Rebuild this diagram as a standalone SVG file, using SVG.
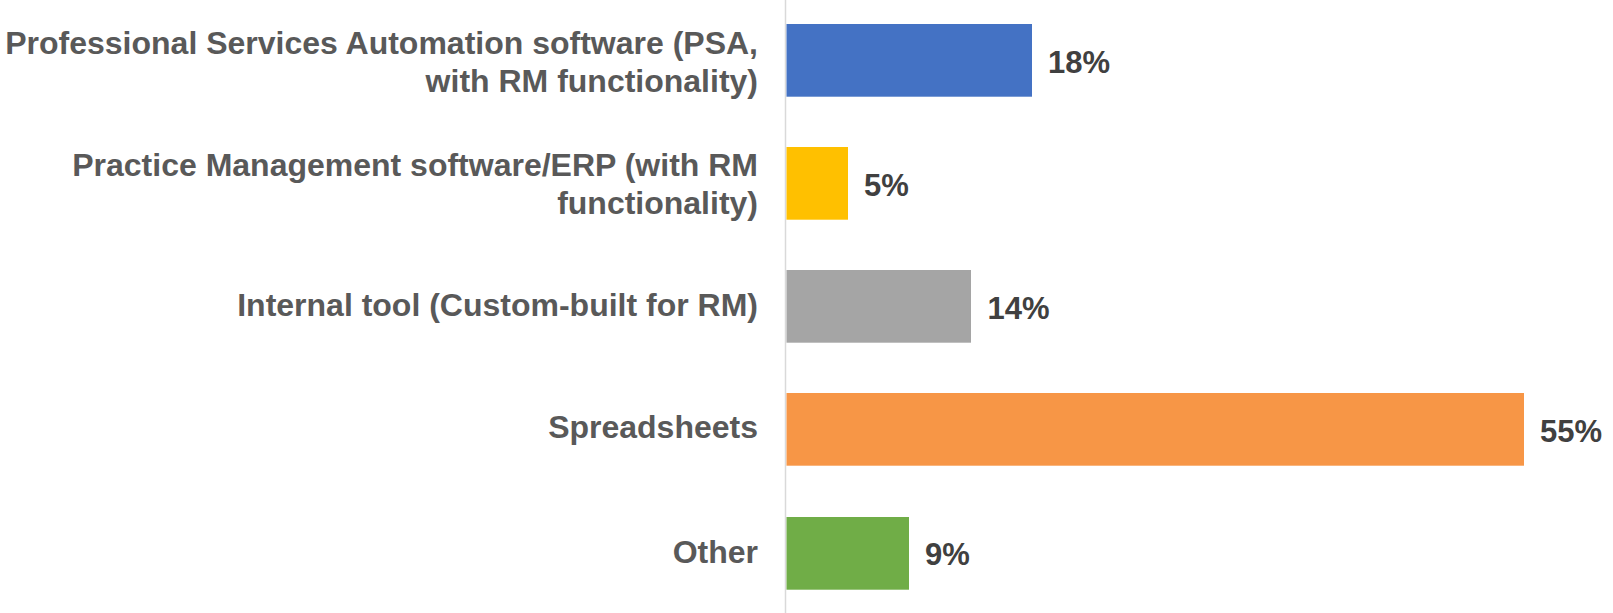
<svg xmlns="http://www.w3.org/2000/svg" width="1613" height="613" viewBox="0 0 1613 613">
<style>
.lbl{font-family:"Liberation Sans",Arial,sans-serif;font-weight:bold;font-size:32px;fill:#595959;text-anchor:end}
.val{font-family:"Liberation Sans",Arial,sans-serif;font-weight:bold;font-size:31px;fill:#404040}
</style>
<rect width="1613" height="613" fill="#ffffff"/>
<g id="axis"><line x1="785.5" y1="0" x2="785.5" y2="613" stroke="#d9d9d9" stroke-width="1.5"/></g>
<g id="bar-psa">
<rect x="786.5" y="24" width="245.5" height="72.7" fill="#4472C4"/>
<text class="lbl" x="758" y="53.5">Professional Services Automation software (PSA,</text>
<text class="lbl" x="758" y="92">with RM functionality)</text>
<text class="val" x="1048" y="72.5">18%</text>
</g>
<g id="bar-pm">
<rect x="786.5" y="147" width="61.5" height="72.7" fill="#FFC000"/>
<text class="lbl" x="758" y="176">Practice Management software/ERP (with RM</text>
<text class="lbl" x="758" y="213.5">functionality)</text>
<text class="val" x="864" y="195.5">5%</text>
</g>
<g id="bar-internal">
<rect x="786.5" y="270" width="184.5" height="72.7" fill="#A5A5A5"/>
<text class="lbl" x="758" y="316">Internal tool (Custom-built for RM)</text>
<text class="val" x="987.5" y="318.5">14%</text>
</g>
<g id="bar-spreadsheets">
<rect x="786.5" y="393" width="737.5" height="72.7" fill="#F79646"/>
<text class="lbl" x="758" y="438">Spreadsheets</text>
<text class="val" x="1540" y="441.5">55%</text>
</g>
<g id="bar-other">
<rect x="786.5" y="517" width="122.5" height="72.7" fill="#70AD47"/>
<text class="lbl" x="758" y="562.5">Other</text>
<text class="val" x="925" y="565">9%</text>
</g>
<g id="connectors"></g>
</svg>
